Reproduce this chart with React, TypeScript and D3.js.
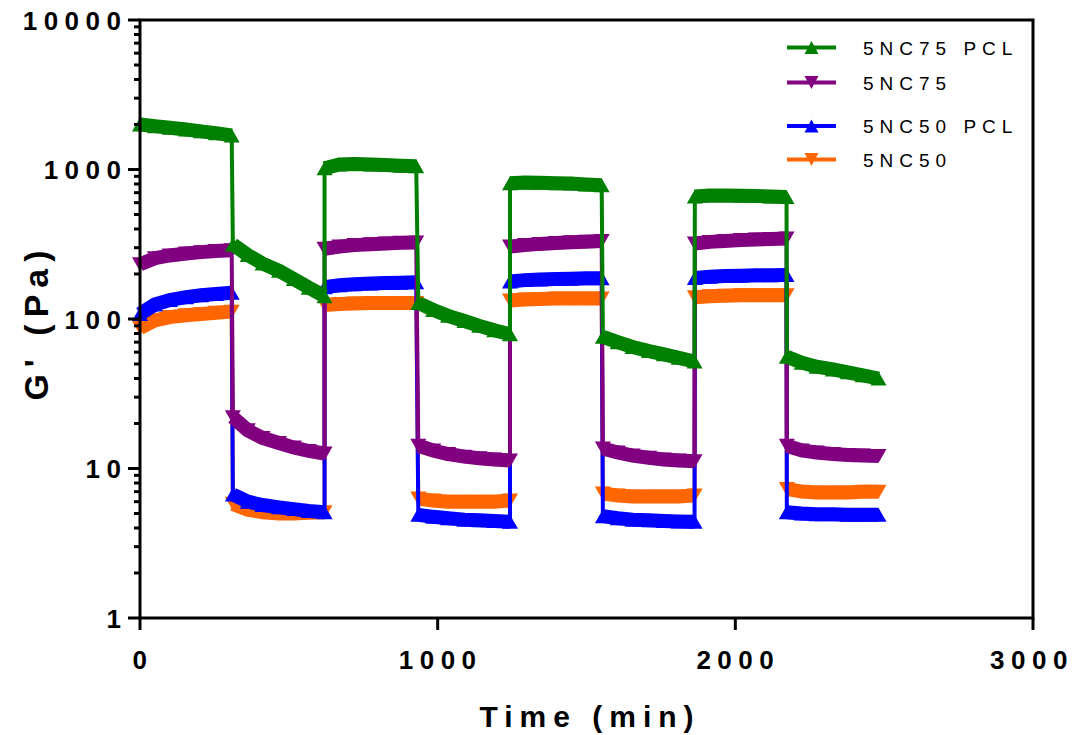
import React from "react";
import * as d3 from "d3";

const segStarts = [0, 312, 620, 935, 1243, 1555, 1864, 2173];
const offsets = [0, 50, 100, 155, 205, 255, 308];

const green5NC75PCL = [
  [2000, 1950, 1900, 1850, 1800, 1750, 1690],
  [315, 268, 235, 210, 185, 162, 142],
  [1020, 1080, 1090, 1080, 1070, 1060, 1050],
  [128, 115, 105, 97, 90, 84, 79],
  [810, 820, 815, 810, 805, 795, 785],
  [76, 70, 65, 61, 58, 55, 52],
  [660, 670, 670, 668, 665, 660, 655],
  [56, 51, 48, 46, 44, 42, 40],
];
const purple5NC75 = [
  [232, 255, 266, 274, 280, 285, 288],
  [22, 18, 16, 14.8, 13.8, 13.1, 12.6],
  [295, 305, 312, 316, 320, 323, 325],
  [14.2, 13.2, 12.5, 12.0, 11.7, 11.5, 11.3],
  [305, 312, 318, 322, 326, 329, 332],
  [13.6, 12.8, 12.2, 11.8, 11.5, 11.3, 11.2],
  [320, 328, 333, 337, 340, 343, 346],
  [14.2, 13.2, 12.8, 12.5, 12.3, 12.2, 12.1],
];
const blue5NC50PCL = [
  [108, 125, 134, 140, 144, 147, 150],
  [6.7, 6.0, 5.7, 5.5, 5.35, 5.2, 5.1],
  [163, 168, 171, 173, 174, 175, 176],
  [4.9, 4.75, 4.65, 4.55, 4.5, 4.45, 4.4],
  [178, 182, 184, 185, 186, 187, 187],
  [4.8, 4.65, 4.55, 4.5, 4.45, 4.42, 4.4],
  [188, 192, 194, 195, 196, 196, 197],
  [5.1, 5.0, 4.95, 4.95, 4.9, 4.9, 4.9],
];
const orange5NC50 = [
  [87, 98, 103, 106, 108, 110, 112],
  [5.8, 5.3, 5.1, 5.0, 5.0, 5.05, 5.1],
  [124, 126, 127, 128, 128, 128, 128],
  [6.3, 6.1, 6.0, 6.0, 6.0, 6.0, 6.1],
  [133, 135, 136, 137, 137, 137, 137],
  [6.8, 6.6, 6.5, 6.5, 6.5, 6.5, 6.6],
  [140, 142, 143, 144, 144, 144, 144],
  [7.3, 7.0, 6.9, 6.9, 6.9, 7.0, 7.0],
];

const xTicks = [0, 1000, 2000, 3000];
const yTicks = [1, 10, 100, 1000, 10000];

const series = [
  { name: "5NC50", color: "#ff6600", up: false, data: orange5NC50 },
  { name: "5NC50 PCL", color: "#0000ff", up: true, data: blue5NC50PCL },
  { name: "5NC75", color: "#800080", up: false, data: purple5NC75 },
  { name: "5NC75 PCL", color: "#008000", up: true, data: green5NC75PCL },
];
const legendOrder = ["5NC75 PCL", "5NC75", "5NC50 PCL", "5NC50"];
const legendY = [47.5, 82.5, 126, 159.5];

const L = 140, R = 1033, T = 20, B = 618;
const FONT = "'Liberation Sans', Arial, Helvetica, sans-serif";

function tri(cx: number, cy: number, up: boolean, w = 16, h = 14) {
  const s = up ? 1 : -1;
  return `M${cx},${cy - s * h / 2}L${cx + w / 2},${cy + s * h / 2}L${cx - w / 2},${cy + s * h / 2}Z`;
}

export default function App() {
  const x = d3.scaleLinear().domain([0, 3000]).range([L, R]);
  const y = d3.scaleLog().domain([1, 10000]).range([B, T]);
  const line = d3.line<[number, number]>().x((d) => x(d[0])).y((d) => y(d[1]));

  const minor: number[] = [];
  for (let e = 0; e < 4; e++) for (let k = 2; k <= 9; k++) minor.push(k * Math.pow(10, e));

  return (
    <svg width={1076} height={735} style={{ position: "absolute", left: 0, top: 0, background: "#fff" }}>
      {series.map((s) => {
        const segs = s.data.map((vals, i) =>
          vals.map((v, j) => [segStarts[i] + offsets[j], v] as [number, number])
        );
        const all = segs.flat();
        return (
          <g key={s.name}>
            <path d={line(all) || ""} fill="none" stroke={s.color} strokeWidth={4} />
            {segs.map((sg, i) => (
              <path key={i} d={line(sg) || ""} fill="none" stroke={s.color} strokeWidth={14} />
            ))}
            {all.map((p, i) => (
              <path key={i} d={tri(x(p[0]), y(p[1]), s.up)} fill={s.color} />
            ))}
          </g>
        );
      })}

      {/* frame */}
      <rect x={L} y={T} width={R - L} height={B - T} fill="none" stroke="#000" strokeWidth={3} />
      {yTicks.map((t) => (
        <g key={t}>
          <line x1={L - 12} x2={L} y1={y(t)} y2={y(t)} stroke="#000" strokeWidth={3} />
          <text
            x={121 + 6.5}
            y={y(t) + 9.5}
            textAnchor="end"
            fontFamily={FONT}
            fontWeight="bold"
            fontSize={26}
            letterSpacing={6.5}
          >
            {t}
          </text>
        </g>
      ))}
      {minor.map((t) => (
        <line key={t} x1={L - 6} x2={L} y1={y(t)} y2={y(t)} stroke="#000" strokeWidth={3} />
      ))}
      {xTicks.map((t) => (
        <g key={t}>
          <line x1={x(t)} x2={x(t)} y1={B} y2={B + 12} stroke="#000" strokeWidth={3} />
          <text
            x={t === 3000 ? x(t) - 1 : x(t) + 3}
            y={669}
            textAnchor="middle"
            fontFamily={FONT}
            fontWeight="bold"
            fontSize={26}
            letterSpacing={6.5}
          >
            {t}
          </text>
        </g>
      ))}
      <text
        x={590}
        y={727}
        textAnchor="middle"
        fontFamily={FONT}
        fontWeight="bold"
        fontSize={30}
        letterSpacing={7}
      >
        Time (min)
      </text>
      <text
        transform={`translate(48,${322}) rotate(-90)`}
        textAnchor="middle"
        fontFamily={FONT}
        fontWeight="bold"
        fontSize={34}
        letterSpacing={7}
      >
        G' (Pa)
      </text>

      {/* legend */}
      {legendOrder.map((n, i) => {
        const s = series.find((q) => q.name === n)!;
        const ly = legendY[i];
        return (
          <g key={n}>
            <line x1={787} x2={836} y1={ly} y2={ly} stroke={s.color} strokeWidth={4} />
            <path d={tri(811.5, ly, s.up, 14, 13)} fill={s.color} />
            <text x={863} y={ly + 7} fontFamily={FONT} fontSize={19} letterSpacing={6} fill="#000">
              {n}
            </text>
          </g>
        );
      })}
    </svg>
  );
}
